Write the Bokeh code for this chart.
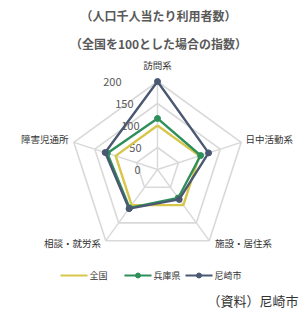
import numpy as np
from bokeh.plotting import figure
from bokeh.models import Range1d
from bokeh.core.properties import value
from bokeh.embed import file_html
from bokeh.resources import INLINE

title_lines = ["（人口千人当たり利用者数）", "（全国を100とした場合の指数）"]
categories = ["訪問系", "日中活動系", "施設・居住系", "相談・就労系", "障害児通所"]
series_names = ["全国", "兵庫県", "尼崎市"]
zenkoku = [100, 100, 100, 100, 100]
hyogo = [116, 103, 80, 108, 120]
amagasaki = [200, 122, 84, 110, 125]
ring_values = [50, 100, 150, 200]
tick_values = [0, 50, 100, 150, 200]
tick_labels = ["0", "50", "100", "150", "200"]
source_note = "（資料）尼崎市"

colors = ["#d8c64a", "#2f8f5b", "#4a5872"]
FONT = value("Noto Sans CJK JP")

OX, OY = 0, 0              # page offset of the figure
W, H = 300, 311
CX, CY = 157, 169          # radar centre in page pixels
R_PX = 88                  # pixel radius of the 200 ring
VMAX = 200
k = VMAX / R_PX            # value units per pixel

def px(x, y):
    return (x - CX) * k, (CY - y) * k

p = figure(width=W, height=H, output_backend="svg", toolbar_location=None,
           x_range=Range1d((OX - CX) * k, (OX + W - CX) * k),
           y_range=Range1d((CY - OY - H) * k, (CY - OY) * k),
           x_axis_location=None, y_axis_location=None, min_border=0)
p.grid.visible = False
p.outline_line_color = None
p.background_fill_color = "white"

n = len(categories)
ang = np.pi / 2 - 2 * np.pi * np.arange(n) / n

# rings
for rv in ring_values:
    xs = list(rv * np.cos(ang)) + [rv * np.cos(ang[0])]
    ys = list(rv * np.sin(ang)) + [rv * np.sin(ang[0])]
    p.line(xs, ys, line_color="#d9d9d9", line_width=1.6)
# spokes
for a in ang:
    p.line([0, VMAX * np.cos(a)], [0, VMAX * np.sin(a)], line_color="#d9d9d9", line_width=1.4)

# radial tick labels (slightly slanted as in the reference)
tick_right_px = [140, 141, 139, 133, 121]
for v, lab, rx in zip(tick_values, tick_labels, tick_right_px):
    x, _ = px(rx, 0)
    p.text([x], [v], text=[lab], text_align="right", text_baseline="middle",
           text_font=FONT, text_font_size="11px", text_color="#595959")

# series
for name, vals, c, mk in zip(series_names, [zenkoku, hyogo, amagasaki], colors, [False, True, True]):
    v = np.array(vals, dtype=float)
    xs = list(v * np.cos(ang)) + [v[0] * np.cos(ang[0])]
    ys = list(v * np.sin(ang)) + [v[0] * np.sin(ang[0])]
    p.line(xs, ys, line_color=c, line_width=2.4)
    if mk:
        p.scatter(list(v * np.cos(ang)), list(v * np.sin(ang)), size=6,
                  fill_color=c, line_color=c, marker="circle")

# category labels
cat_pos = [(157, 64, "center"), (245, 138, "left"), (243, 242, "center"),
           (72, 242, "center"), (68, 138, "right")]
for lab, (x0, y0, al) in zip(categories, cat_pos):
    x, y = px(x0, y0)
    p.text([x], [y], text=[lab], text_align=al, text_baseline="middle",
           text_font=FONT, text_font_size="9.5px", text_color="#333333")

# title
for i, t in enumerate(title_lines):
    x, y = px(158, 15 + 28 * i)
    p.text([x], [y], text=[t], text_align="center", text_baseline="middle",
           text_font=FONT, text_font_size="12px", text_color="#595959", text_font_style="bold")

# legend
leg_x = [60, 124, 185]
for name, c, lx, mk in zip(series_names, colors, leg_x, [False, True, True]):
    x1, y1 = px(lx, 275)
    x2, _ = px(lx + 27, 275)
    p.line([x1, x2], [y1, y1], line_color=c, line_width=2.2)
    if mk:
        p.scatter([(x1 + x2) / 2], [y1], size=5, fill_color=c, line_color=c)
    xt, _ = px(lx + 29, 275)
    p.text([xt], [y1], text=[name], text_align="left", text_baseline="middle",
           text_font=FONT, text_font_size="9px", text_color="#333333")

# source
x, y = px(298, 300)
p.text([x], [y], text=[source_note], text_align="right", text_baseline="middle",
       text_font=FONT, text_font_size="13px", text_color="#333333")

open("out.html", "w").write(file_html(p, INLINE))
